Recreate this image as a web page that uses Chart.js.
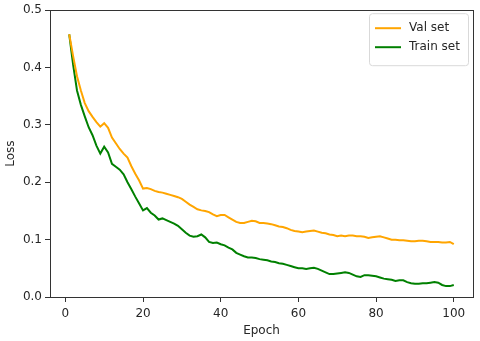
<!DOCTYPE html>
<html>
<head>
<meta charset="utf-8">
<script src="https://cdn.jsdelivr.net/npm/chart.js@4"></script>
<style>
  html, body { margin: 0; padding: 0; background: #fff; }
  #wrap { width: 480px; height: 341px; }
</style>
</head>
<body>
<div id="wrap"><canvas id="lossChart" width="480" height="341"></canvas></div>
<script>
// epochs 1..100
const epochs = Array.from({ length: 100 }, (_, i) => i + 1);

const valLoss = [
  0.458, 0.420, 0.385, 0.360, 0.338, 0.324, 0.314, 0.305, 0.297, 0.303,
  0.295, 0.278, 0.268, 0.258, 0.250, 0.243, 0.228, 0.215, 0.203, 0.189,
  0.190, 0.188, 0.185, 0.183, 0.182, 0.180, 0.178, 0.176, 0.174, 0.171,
  0.166, 0.161, 0.157, 0.153, 0.151, 0.150, 0.148, 0.144, 0.141, 0.143,
  0.143, 0.139, 0.135, 0.131, 0.129, 0.129, 0.131, 0.133, 0.132, 0.129,
  0.129, 0.128, 0.127, 0.125, 0.123, 0.122, 0.120, 0.117, 0.115, 0.114,
  0.113, 0.114, 0.115, 0.116, 0.114, 0.112, 0.111, 0.109, 0.108, 0.106,
  0.107, 0.106, 0.107, 0.107, 0.106, 0.106, 0.105, 0.103, 0.104, 0.105,
  0.106, 0.104, 0.102, 0.100, 0.100, 0.099, 0.099, 0.098, 0.097, 0.097,
  0.098, 0.098, 0.097, 0.096, 0.096, 0.096, 0.095, 0.095, 0.096, 0.092
];

const trainLoss = [
  0.458, 0.405, 0.360, 0.335, 0.315, 0.296, 0.282, 0.264, 0.250, 0.262,
  0.252, 0.232, 0.227, 0.222, 0.214, 0.200, 0.188, 0.175, 0.163, 0.151,
  0.155, 0.147, 0.142, 0.135, 0.137, 0.134, 0.131, 0.128, 0.124, 0.118,
  0.112, 0.107, 0.105, 0.106, 0.109, 0.104, 0.096, 0.094, 0.095, 0.092,
  0.090, 0.086, 0.083, 0.077, 0.074, 0.071, 0.069, 0.069, 0.068, 0.066,
  0.065, 0.064, 0.062, 0.061, 0.059, 0.058, 0.056, 0.054, 0.052, 0.050,
  0.050, 0.049, 0.050, 0.051, 0.049, 0.046, 0.043, 0.040, 0.040, 0.041,
  0.042, 0.043, 0.042, 0.039, 0.036, 0.035, 0.038, 0.038, 0.037, 0.036,
  0.034, 0.032, 0.031, 0.030, 0.028, 0.029, 0.029, 0.026, 0.024, 0.023,
  0.023, 0.024, 0.024, 0.025, 0.026, 0.025, 0.021, 0.019, 0.019, 0.021
];

const xTicks = [0, 20, 40, 60, 80, 100];
const yTicks = [0.0, 0.1, 0.2, 0.3, 0.4, 0.5];

const FONT = 'DejaVu Sans';
const TEXT = '#262626';

// draws the box around the plot, like matplotlib spines
const frame = {
  id: 'frame',
  afterDraw(chart) {
    const { ctx, chartArea: a } = chart;
    ctx.save();
    ctx.strokeStyle = '#333';
    ctx.lineWidth = 1;
    ctx.strokeRect(Math.round(a.left) + 0.5, Math.round(a.top) + 0.5,
      Math.round(a.right - a.left), Math.round(a.bottom - a.top));
    ctx.restore();
  }
};

// legend box in the upper right corner
const boxLegend = {
  id: 'boxLegend',
  afterDraw(chart) {
    const { ctx, chartArea: a } = chart;
    const w = 99, h = 52;
    const x = a.right - 5 - w, y = a.top + 3;
    ctx.save();
    ctx.fillStyle = 'rgba(255,255,255,0.8)';
    ctx.strokeStyle = '#d9d9d9';
    ctx.lineWidth = 1;
    ctx.beginPath();
    ctx.roundRect(x + 0.5, y + 0.5, w, h, 3);
    ctx.fill();
    ctx.stroke();
    ctx.font = '12px ' + FONT;
    ctx.textBaseline = 'middle';
    chart.data.datasets.forEach((ds, i) => {
      const cy = y + 15 + i * 19;
      ctx.strokeStyle = ds.borderColor;
      ctx.lineWidth = 2;
      ctx.beginPath();
      ctx.moveTo(x + 6, cy);
      ctx.lineTo(x + 32, cy);
      ctx.stroke();
      ctx.fillStyle = TEXT;
      ctx.fillText(ds.label, x + 40, cy);
    });
    ctx.restore();
  }
};

function initLossChart() {
  const ctx = document.getElementById('lossChart').getContext('2d');
  new Chart(ctx, {
    type: 'line',
    data: {
      datasets: [{
        label: 'Val set',
        data: epochs.map((e, i) => ({ x: e, y: valLoss[i] })),
        borderColor: '#FFA500',
        borderWidth: 2,
        pointRadius: 0,
        tension: 0
      }, {
        label: 'Train set',
        data: epochs.map((e, i) => ({ x: e, y: trainLoss[i] })),
        borderColor: '#008000',
        borderWidth: 2,
        pointRadius: 0,
        tension: 0
      }]
    },
    options: {
      responsive: false,
      animation: false,
      layout: { padding: { top: 8, right: 7, left: 0, bottom: 0 } },
      plugins: {
        legend: { display: false },
        tooltip: { enabled: false }
      },
      scales: {
        x: {
          type: 'linear',
          min: -3.95,
          max: 104.95,
          afterBuildTicks: s => { s.ticks = xTicks.map(v => ({ value: v })); },
          afterFit: s => { s.height = 44; },
          ticks: {
            color: TEXT,
            font: { family: FONT, size: 12 },
            padding: 5,
            maxRotation: 0,
            callback: v => String(v)
          },
          grid: { drawOnChartArea: false, drawTicks: true, tickLength: 5, color: '#333' },
          border: { display: false },
          title: {
            display: true,
            text: 'Epoch',
            color: TEXT,
            font: { family: FONT, size: 12 },
            padding: { top: 2, bottom: 3 }
          }
        },
        y: {
          min: 0,
          max: 0.5,
          afterBuildTicks: s => { s.ticks = yTicks.map(v => ({ value: v })); },
          afterFit: s => { s.width = 50; },
          ticks: {
            color: TEXT,
            font: { family: FONT, size: 12 },
            padding: 3,
            callback: v => v.toFixed(1)
          },
          grid: { drawOnChartArea: false, drawTicks: true, tickLength: 5, color: '#333' },
          border: { display: false },
          title: {
            display: true,
            text: 'Loss',
            color: TEXT,
            font: { family: FONT, size: 12 },
            padding: { bottom: 2 }
          }
        }
      }
    },
    plugins: [frame, boxLegend]
  });
}

window.onload = function() {
  initLossChart();
};
</script>
</body>
</html>
